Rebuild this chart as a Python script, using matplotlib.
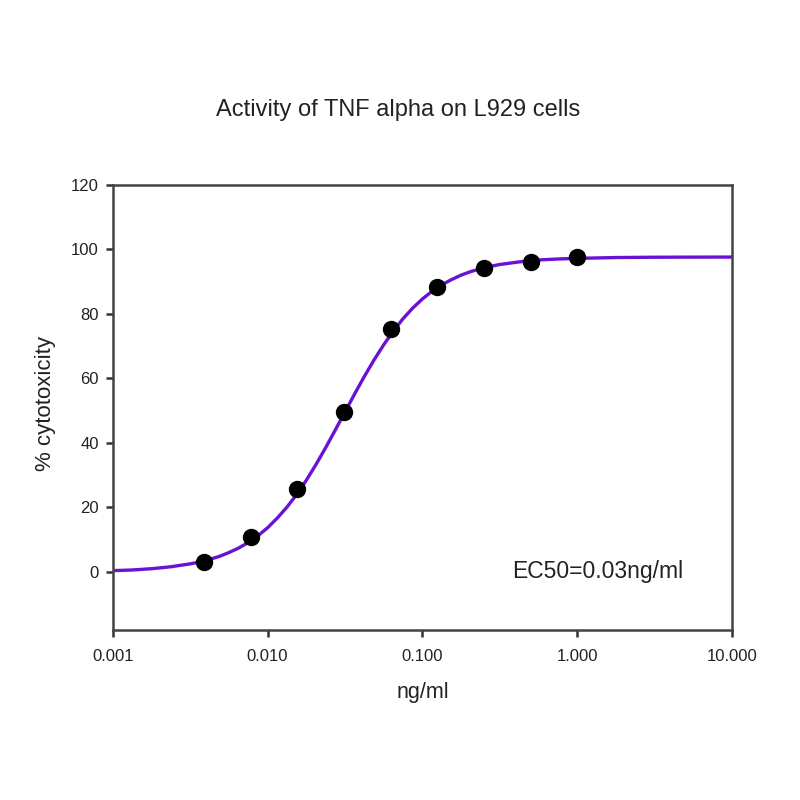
import matplotlib
matplotlib.use("Agg")
import matplotlib.pyplot as plt
from matplotlib.ticker import FixedLocator, FixedFormatter, NullLocator

plt.rcParams['font.family'] = ['Liberation Sans', 'DejaVu Sans']

# Measured points
dose = [0.0039, 0.0078, 0.0156, 0.03125, 0.0625, 0.125, 0.25, 0.5, 1.0]
cytotox = [3.0, 10.9, 25.6, 49.6, 75.3, 88.3, 94.3, 96.2, 97.5]

# Fitted curve
curve_x = [0.001, 0.00133, 0.00178, 0.00237, 0.00316, 0.00365, 0.00422, 0.00487,
           0.00562, 0.00649, 0.0075, 0.00866, 0.01, 0.01155, 0.01334, 0.0154,
           0.01778, 0.02054, 0.02371, 0.02738, 0.03162, 0.03652, 0.04217, 0.0487,
           0.05623, 0.06494, 0.07499, 0.0866, 0.1, 0.1155, 0.1334, 0.154,
           0.1778, 0.2054, 0.2371, 0.2738, 0.3162, 0.4217, 0.5623, 0.7499,
           1.0, 1.778, 3.162, 5.623, 10.0]
curve_y = [0.4, 0.6, 1.0, 1.6, 2.5, 3.1, 3.9, 4.8,
           6.0, 7.4, 9.1, 11.2, 13.7, 16.7, 20.1, 24.0,
           28.4, 33.3, 38.5, 44.0, 49.6, 55.2, 60.6, 65.7,
           70.4, 74.7, 78.5, 81.8, 84.6, 87.0, 89.0, 90.6,
           92.0, 93.1, 94.0, 94.7, 95.3, 96.1, 96.7, 97.0,
           97.2, 97.45, 97.55, 97.58, 97.6]

xticks = [0.001, 0.01, 0.1, 1.0, 10.0]
xtick_labels = ["0.001", "0.010", "0.100", "1.000", "10.000"]
yticks = [0, 20, 40, 60, 80, 100, 120]

fig = plt.figure(figsize=(8, 8), dpi=100)
ax = fig.add_axes([0.141, 0.2125, 0.774, 0.5565])

ax.plot(curve_x, curve_y, color='#6a12d4', linewidth=2.4, zorder=2,
        solid_joinstyle='round')
ax.plot(dose, cytotox, 'o', color='black', markersize=11.5, zorder=3)

ax.set_xscale('log')
ax.set_xlim(0.001, 10)
ax.set_ylim(-18, 120)
ax.xaxis.set_major_locator(FixedLocator(xticks))
ax.xaxis.set_major_formatter(FixedFormatter(xtick_labels))
ax.xaxis.set_minor_locator(NullLocator())
ax.set_yticks(yticks)

for sp in ax.spines.values():
    sp.set_color('#444444')
    sp.set_linewidth(1.8)
ax.tick_params(axis='both', direction='out', length=5, width=1.8, color='#333333',
               labelsize=12, labelcolor='#222222', pad=5)
ax.tick_params(axis='x', pad=9)

fig.text(0.4975, 0.862, "Activity of TNF alpha on L929 cells", ha='center', va='center',
         fontsize=17, color='#222222')
fig.text(0.528, 0.134, "ng/ml", ha='center', va='center', fontsize=15.5, color='#222222')
fig.text(0.057, 0.496, "% cytotoxicity", ha='center', va='center', rotation=90,
         fontsize=16, color='#222222')
ax.text(0.378, 0, "EC50=0.03ng/ml", ha='left', va='center', fontsize=16.5, color='#222222')

plt.savefig("out.png", dpi=100)
